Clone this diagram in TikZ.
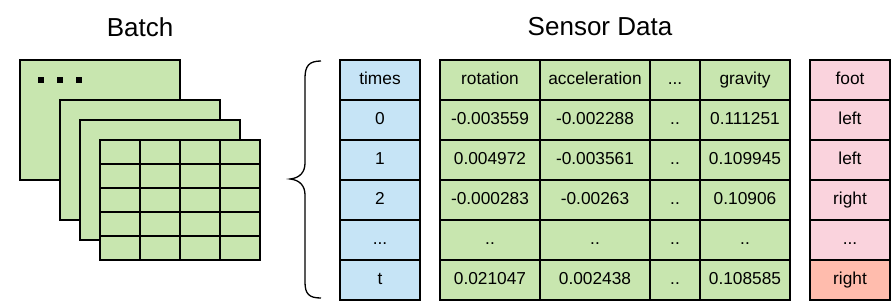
\documentclass[tikz,border=0pt]{standalone}
\usepackage{fontspec}
\setmainfont{Liberation Sans}
\definecolor{cblue}{RGB}{198,228,246}
\definecolor{cgreen}{RGB}{200,230,175}
\definecolor{cpink}{RGB}{250,211,221}
\definecolor{csalmon}{RGB}{255,188,173}
\newcommand\mythree{...}
\newcommand\mytwo{..}
\tikzset{
  cell/.style={draw=black, line width=1.2pt, inner sep=0pt, minimum height=40pt, text height=12.5pt, text depth=3.5pt, anchor=center, font=\fontsize{17.3}{20}\selectfont},
  sheet/.style={draw=black, line width=1.5pt, fill=cgreen},
  title/.style={font=\fontsize{26}{30}\selectfont, inner sep=0pt}
}
\begin{document}
\begin{tikzpicture}[x=1pt,y=-1pt]
\useasboundingbox (0,0) rectangle (896,303);
% titles
\node[title] (batch) at (140,27) {Batch};
\node[title] (sensor) at (600,27) {Sensor Data};
% batch sheets
\draw[sheet] (20,60) rectangle (180,180);
\foreach \x in {41,60,79} \fill (\x-3,77) rectangle (\x+3,83);
\draw[sheet] (60,100) rectangle (220,220);
\draw[sheet] (80,120) rectangle (240,240);
\draw[sheet] (100,140) rectangle (260,260);
\foreach \x in {140,180,220} \draw[line width=1.5pt] (\x,140) -- (\x,260);
\foreach \y in {164,188,212,236} \draw[line width=1.5pt] (100,\y) -- (260,\y);
% brace
\draw[line width=1.3pt] (321,61) .. controls (309,61) and (305,66) .. (305,78) -- (305,163) .. controls (305,172) and (300,178) .. (290,179) .. controls (300,180) and (305,186) .. (305,195) -- (305,282) .. controls (305,294) and (309,298) .. (321,298);
% table
\foreach \i/\a/\b/\c/\d/\e in {0/times/rotation/acceleration/\mythree/gravity, 1/0/-0.003559/-0.002288/\mytwo/0.111251, 2/1/0.004972/-0.003561/\mytwo/0.109945, 3/2/-0.000283/-0.00263/\mytwo/0.10906, 4/\mythree/\mytwo/\mytwo/\mytwo/\mytwo, 5/t/0.021047/0.002438/\mytwo/0.108585}{
  \node[cell, fill=cblue, minimum width=80pt] (tm\i) at (380,80+40*\i) {\a};
  \node[cell, fill=cgreen, minimum width=100pt] (ro\i) at (490,80+40*\i) {\b};
  \node[cell, fill=cgreen, minimum width=110pt] (ac\i) at (595,80+40*\i) {\c};
  \node[cell, fill=cgreen, minimum width=50pt] (dd\i) at (675,80+40*\i) {\d};
  \node[cell, fill=cgreen, minimum width=90pt] (gr\i) at (745,80+40*\i) {\e};
}
\foreach \i/\f in {0/foot, 1/left, 2/left, 3/right, 4/\mythree}{
  \node[cell, fill=cpink, minimum width=80pt] (ft\i) at (850,80+40*\i) {\f};
}
\node[cell, fill=csalmon, minimum width=80pt] (ft5) at (850,280) {right};
\end{tikzpicture}
\end{document}
